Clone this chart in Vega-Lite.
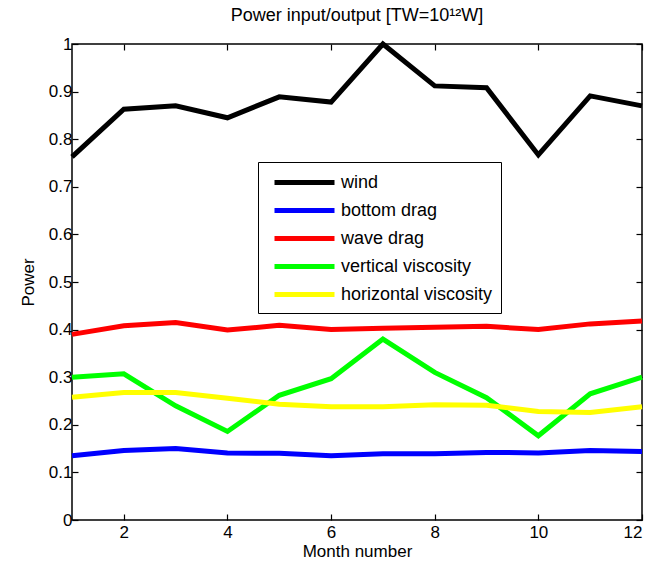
{
  "$schema": "https://vega.github.io/schema/vega-lite/v6.json",
  "autosize": {"type": "none"},
  "padding": {"left": 72, "top": 44, "right": 30, "bottom": 48},
  "width": 570,
  "height": 476,
  "background": "white",
  "title": {"text": "Power input/output [TW=10¹²W]", "font": "Liberation Sans", "fontSize": 18, "fontWeight": "normal", "color": "black", "offset": 9},
  "data": {"values": [
    {"month":1,"series":"wind","power":0.763},{"month":2,"series":"wind","power":0.863},{"month":3,"series":"wind","power":0.870},{"month":4,"series":"wind","power":0.845},{"month":5,"series":"wind","power":0.889},{"month":6,"series":"wind","power":0.878},{"month":7,"series":"wind","power":1.0},{"month":8,"series":"wind","power":0.912},{"month":9,"series":"wind","power":0.908},{"month":10,"series":"wind","power":0.767},{"month":11,"series":"wind","power":0.891},{"month":12,"series":"wind","power":0.870},
    {"month":1,"series":"bottom drag","power":0.135},{"month":2,"series":"bottom drag","power":0.146},{"month":3,"series":"bottom drag","power":0.150},{"month":4,"series":"bottom drag","power":0.141},{"month":5,"series":"bottom drag","power":0.140},{"month":6,"series":"bottom drag","power":0.135},{"month":7,"series":"bottom drag","power":0.139},{"month":8,"series":"bottom drag","power":0.139},{"month":9,"series":"bottom drag","power":0.142},{"month":10,"series":"bottom drag","power":0.141},{"month":11,"series":"bottom drag","power":0.146},{"month":12,"series":"bottom drag","power":0.144},
    {"month":1,"series":"wave drag","power":0.390},{"month":2,"series":"wave drag","power":0.408},{"month":3,"series":"wave drag","power":0.415},{"month":4,"series":"wave drag","power":0.399},{"month":5,"series":"wave drag","power":0.409},{"month":6,"series":"wave drag","power":0.400},{"month":7,"series":"wave drag","power":0.403},{"month":8,"series":"wave drag","power":0.405},{"month":9,"series":"wave drag","power":0.407},{"month":10,"series":"wave drag","power":0.400},{"month":11,"series":"wave drag","power":0.412},{"month":12,"series":"wave drag","power":0.418},
    {"month":1,"series":"vertical viscosity","power":0.300},{"month":2,"series":"vertical viscosity","power":0.307},{"month":3,"series":"vertical viscosity","power":0.240},{"month":4,"series":"vertical viscosity","power":0.186},{"month":5,"series":"vertical viscosity","power":0.262},{"month":6,"series":"vertical viscosity","power":0.297},{"month":7,"series":"vertical viscosity","power":0.380},{"month":8,"series":"vertical viscosity","power":0.310},{"month":9,"series":"vertical viscosity","power":0.257},{"month":10,"series":"vertical viscosity","power":0.177},{"month":11,"series":"vertical viscosity","power":0.265},{"month":12,"series":"vertical viscosity","power":0.300},
    {"month":1,"series":"horizontal viscosity","power":0.258},{"month":2,"series":"horizontal viscosity","power":0.268},{"month":3,"series":"horizontal viscosity","power":0.268},{"month":4,"series":"horizontal viscosity","power":0.256},{"month":5,"series":"horizontal viscosity","power":0.243},{"month":6,"series":"horizontal viscosity","power":0.238},{"month":7,"series":"horizontal viscosity","power":0.238},{"month":8,"series":"horizontal viscosity","power":0.242},{"month":9,"series":"horizontal viscosity","power":0.241},{"month":10,"series":"horizontal viscosity","power":0.228},{"month":11,"series":"horizontal viscosity","power":0.226},{"month":12,"series":"horizontal viscosity","power":0.238}
  ]},
  "layer": [
    {
      "mark": {"type": "line", "strokeWidth": 5, "strokeJoin": "miter", "strokeCap": "butt"},
      "encoding": {
        "x": {"field": "month", "type": "quantitative", "scale": {"domain": [1, 12], "nice": false},
              "axis": {"values": [2,4,6,8,10,12], "title": "Month number", "orient": "bottom"}},
        "y": {"field": "power", "type": "quantitative", "scale": {"domain": [0, 1], "nice": false},
              "axis": {"values": [0,0.1,0.2,0.3,0.4,0.5,0.6,0.7,0.8,0.9,1], "format": "~g", "title": "Power", "orient": "left"}},
        "color": {"field": "series", "type": "nominal",
          "scale": {"domain": ["wind","bottom drag","wave drag","vertical viscosity","horizontal viscosity"],
                    "range": ["#000000","#0000ff","#ff0000","#00ff00","#ffff00"]},
          "legend": {"title": null, "orient": "none", "legendX": 186, "legendY": 118,
                     "symbolType": "M-3,0H3", "symbolStrokeWidth": 5, "symbolSize": 400,
                     "labelFont": "Liberation Sans", "labelFontSize": 18, "labelColor": "black",
                     "strokeColor": "black", "fillColor": "white", "padding": 8,
                     "rowPadding": 5, "labelOffset": 24, "symbolOffset": 26, "labelLimit": 300}},
        "order": {"field": "series"}
      }
    },
    {
      "mark": {"type": "line", "opacity": 0},
      "encoding": {
        "x": {"field": "month", "type": "quantitative", "axis": {"orient": "top", "values": [2,4,6,8,10,12], "labels": false, "title": null}},
        "y": {"field": "power", "type": "quantitative", "axis": {"orient": "right", "values": [0,0.1,0.2,0.3,0.4,0.5,0.6,0.7,0.8,0.9,1], "labels": false, "title": null}},
        "detail": {"field": "series"}
      }
    }
  ],
  "resolve": {"axis": {"x": "independent", "y": "independent"}},
  "config": {
    "view": {"stroke": "black", "strokeWidth": 1.5},
    "axis": {"domain": false, "grid": false, "tickSize": -6, "tickColor": "black", "tickWidth": 1.2,
             "labelFont": "Liberation Sans", "labelFontSize": 17, "labelColor": "black",
             "titleFont": "Liberation Sans", "titleFontSize": 17, "titleFontWeight": "normal", "titleColor": "black"},
    "axisBottom": {"titlePadding": 3, "labelPadding": 10},
    "axisLeft": {"titlePadding": 11, "labelPadding": 6}
  }
}
